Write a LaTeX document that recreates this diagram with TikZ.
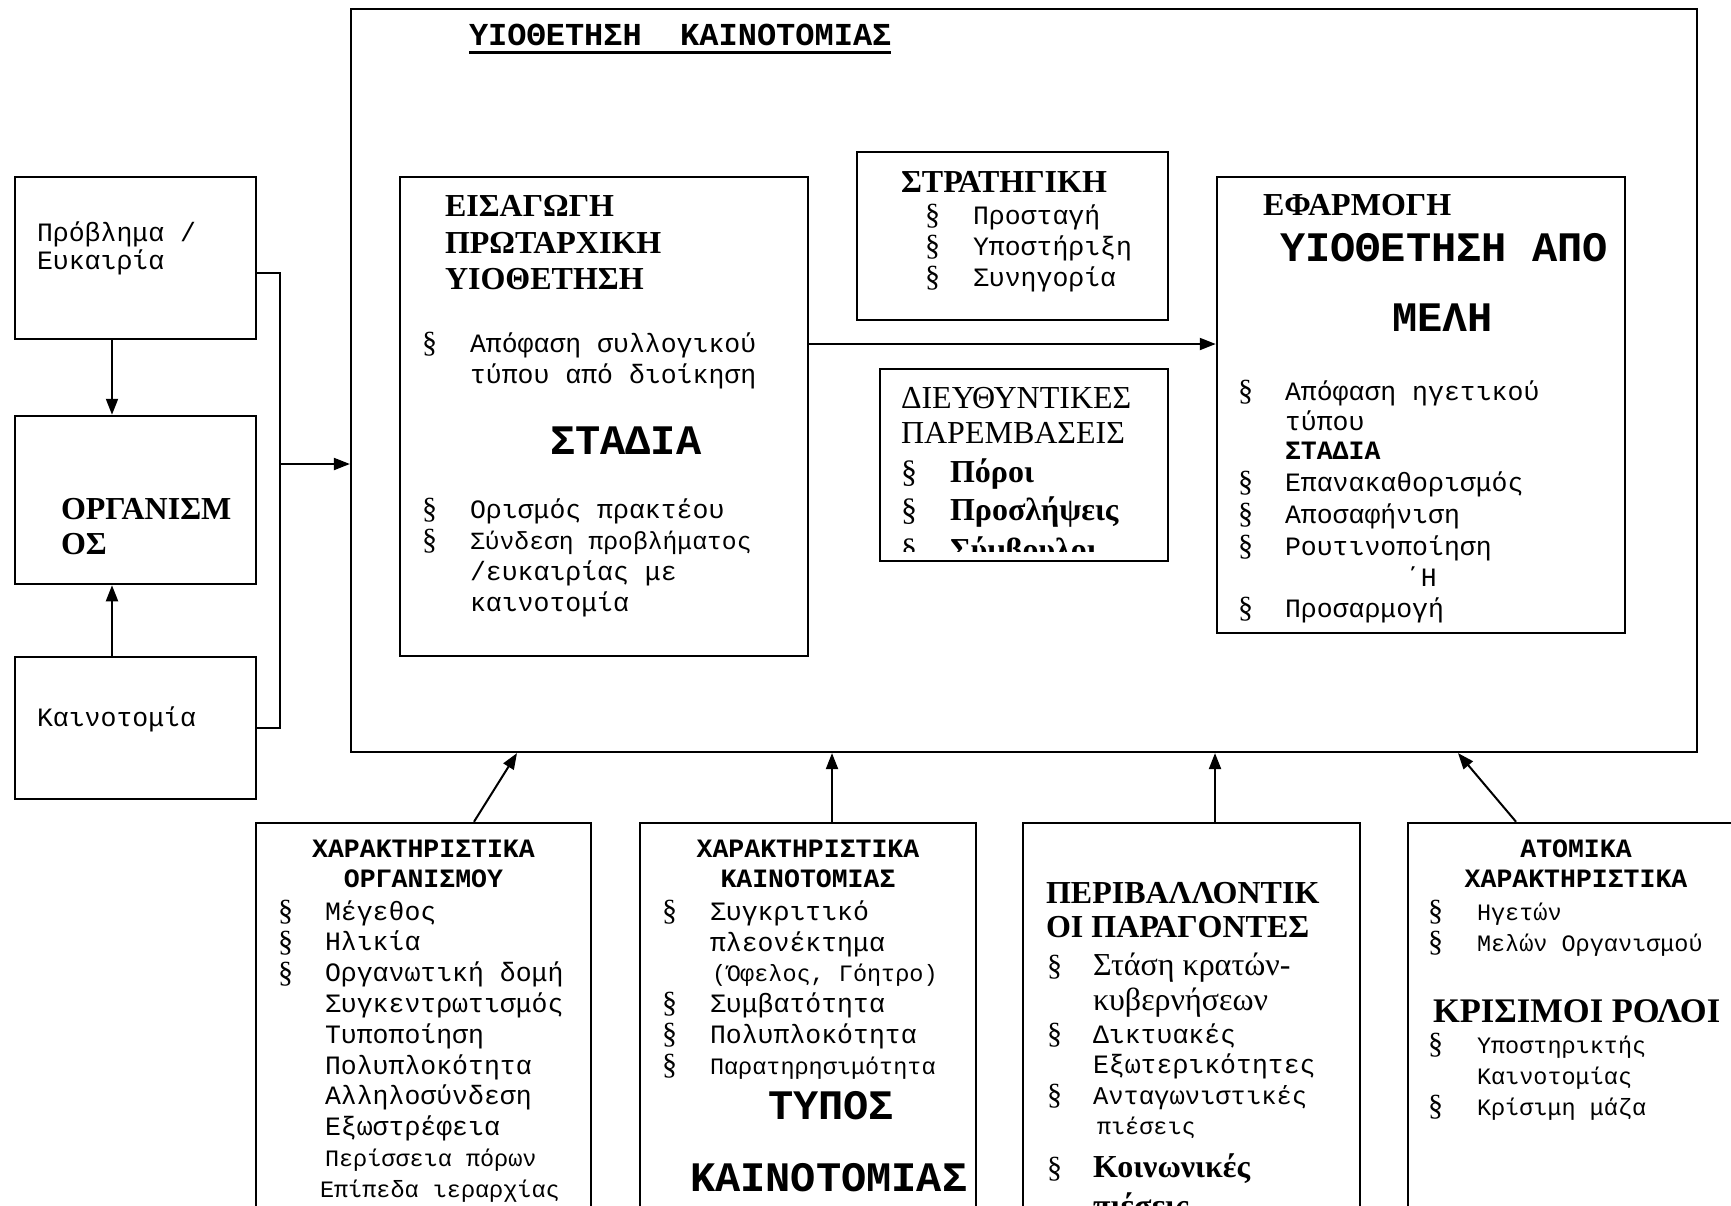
\documentclass[tikz,border=0pt]{standalone}
\usepackage{fontspec}
\setmainfont{Liberation Serif}
\setmonofont{Liberation Mono}
\usetikzlibrary{arrows.meta}
\begin{document}
\begin{tikzpicture}[x=1pt,y=-1pt,
  box/.style={draw, line width=2.5pt, rectangle, inner sep=0pt},
  arr/.style={line width=2pt, -{Triangle[length=16pt,width=12pt]}},
  ln/.style={line width=2pt},
  tx/.style={anchor=base west, inner sep=0pt, outer sep=0pt},
  txc/.style={anchor=base, inner sep=0pt, outer sep=0pt},
  mono/.style={font=\ttfamily\fontsize{26.5pt}{31pt}\selectfont},
  monom/.style={font=\ttfamily\fontsize{24.7pt}{30pt}\selectfont},
  monos/.style={font=\ttfamily\fontsize{23.5pt}{28pt}\selectfont},
  monob/.style={font=\ttfamily\bfseries\fontsize{26.5pt}{31pt}\selectfont},
  monobig/.style={font=\ttfamily\bfseries\fontsize{42pt}{48pt}\selectfont},
  titlef/.style={font=\ttfamily\bfseries\fontsize{32pt}{36pt}\selectfont},
  serb/.style={font=\rmfamily\bfseries\fontsize{32pt}{36pt}\selectfont},
  ser/.style={font=\rmfamily\fontsize{32pt}{36pt}\selectfont},
  sect/.style={font=\rmfamily\fontsize{30pt}{34pt}\selectfont},
]
\useasboundingbox (0,0) rectangle (1731,1205);
\clip (0,0) rectangle (1731,1205);
\fill[white] (0,0) rectangle (1731,1205);

% ---------- boxes ----------
\node[box, minimum width=241pt, minimum height=162pt] (A) at (135.5,258) {};
\node[box, minimum width=241pt, minimum height=168pt] (B) at (135.5,500) {};
\node[box, minimum width=241pt, minimum height=142pt] (C) at (135.5,728) {};
\node[box, line width=2.2pt, minimum width=1346pt, minimum height=743pt] (big) at (1024,380.5) {};
\node[box, minimum width=408pt, minimum height=479pt] (D) at (604,416.5) {};
\node[box, minimum width=311pt, minimum height=168pt] (E) at (1012.5,236) {};
\node[box, minimum width=288pt, minimum height=192pt] (F) at (1024,465) {};
\node[box, minimum width=408pt, minimum height=456pt] (G) at (1421,405) {};
\node[box, minimum width=335pt, minimum height=437pt] (b1) at (423.5,1041.5) {};
\node[box, minimum width=336pt, minimum height=437pt] (b2) at (808,1041.5) {};
\node[box, minimum width=337pt, minimum height=437pt] (b3) at (1191.5,1041.5) {};
\node[box, minimum width=336pt, minimum height=437pt] (b4) at (1576,1041.5) {};

% ---------- connectors ----------
\draw[arr] ([xshift=-23.5pt]A.south) -- ([xshift=-23.5pt]B.north);
\draw[arr] ([xshift=-23.5pt]C.north) -- ([xshift=-23.5pt]B.south);
\coordinate (jx) at (280,464);
\draw[ln] ([yshift=-15pt]A.east) -| (jx) |- (C.east);
\draw[arr] (jx) -- (jx -| big.west);
\draw[arr] ([yshift=72.5pt]D.east) -- ([yshift=72.5pt]D.east -| G.west);
\draw[arr] ([xshift=50.5pt]b1.north) -- ([xshift=-507pt]big.south);
\draw[arr] ([xshift=24pt]b2.north) -- ([xshift=24pt]b2.north |- big.south);
\draw[arr] ([xshift=23.5pt]b3.north) -- ([xshift=23.5pt]b3.north |- big.south);
\draw[arr] ([xshift=-60pt]b4.north) -- ([xshift=434pt]big.south);

% ---------- left column ----------
\node[tx,mono] (a1) at (37,241) {Πρόβλημα /};
\node[tx,mono] (a2) at (37,269) {Ευκαιρία};
\node[tx,serb] (o1) at (61,519) {ΟΡΓΑΝΙΣΜ};
\node[tx,serb] (o2) at (61,554) {ΟΣ};
\node[tx,mono] (c1) at (37,726) {Καινοτομία};

% ---------- title ----------
\node[tx,titlef] (tt) at (469,45) {ΥΙΟΘΕΤΗΣΗ\ \ ΚΑΙΝΟΤΟΜΙΑΣ};
\draw[line width=3pt] ([yshift=-7pt]tt.base west) -- ([yshift=-7pt]tt.base east);

% ---------- box D ----------
\node[tx,serb] (d1) at (445,216) {ΕΙΣΑΓΩΓΗ};
\node[tx,serb] (d2) at (445,253) {ΠΡΩΤΑΡΧΙΚΗ};
\node[tx,serb] (d3) at (445,289) {ΥΙΟΘΕΤΗΣΗ};
\node[tx,sect] (ds1) at (422,352) {§};
\node[tx,mono] (d4) at (470,352) {Απόφαση συλλογικού};
\node[tx,mono] (d5) at (470,383) {τύπου από διοίκηση};
\node[tx,monobig] (d6) at (550,454) {ΣΤΑΔΙΑ};
\node[tx,sect] (ds2) at (422,518) {§};
\node[tx,mono] (d7) at (470,518) {Ορισμός πρακτέου};
\node[tx,sect] (ds3) at (422,549) {§};
\node[tx,monom] (d8) at (470,549) {Σύνδεση προβλήματος};
\node[tx,mono] (d9) at (470,580) {/ευκαιρίας με};
\node[tx,mono] (d10) at (470,611) {καινοτομία};

% ---------- box E ----------
\node[tx,serb] (e1) at (901,192) {ΣΤΡΑΤΗΓΙΚΗ};
\foreach \t [count=\i] in {Προσταγή, Υποστήριξη, Συνηγορία} {
  \node[tx,sect] (es\i) at (925,193+31*\i) {§};
  \node[tx,mono] (et\i) at (973,193+31*\i) {\t};
}

% ---------- box F ----------
\node[tx,ser] (f1) at (901,408) {ΔΙΕΥΘΥΝΤΙΚΕΣ};
\node[tx,ser] (f2) at (901,443) {ΠΑΡΕΜΒΑΣΕΙΣ};
\node[tx,ser] (fs1) at (901,482) {§};
\node[tx,serb] (f3) at (950,482) {Πόροι};
\node[tx,ser] (fs2) at (901,520) {§};
\node[tx,serb] (f4) at (950,520) {Προσλήψεις};
\begin{scope}
  \clip (880,369) rectangle (1168,551);
  \node[tx,ser] (fs3) at (901,560) {§};
  \node[tx,serb] (f5) at (950,560) {Σύμβουλοι};
\end{scope}

% ---------- box G ----------
\node[tx,serb] (g1) at (1263,215) {ΕΦΑΡΜΟΓΗ};
\node[tx,monobig] (g2) at (1280,261) {ΥΙΟΘΕΤΗΣΗ ΑΠΟ};
\node[tx,monobig] (g3) at (1392,331) {ΜΕΛΗ};
\node[tx,sect] (gs1) at (1238,400) {§};
\node[tx,mono] (g4) at (1285,400) {Απόφαση ηγετικού};
\node[tx,mono] (g5) at (1285,430) {τύπου};
\node[tx,monob] (g6) at (1285,459) {ΣΤΑΔΙΑ};
\foreach \t/\y [count=\i] in {Επανακαθορισμός/491, Αποσαφήνιση/523, Ρουτινοποίηση/555, Προσαρμογή/617} {
  \node[tx,sect] (gs\i b) at (1238,\y) {§};
  \node[tx,mono] (gt\i) at (1285,\y) {\t};
}
\node[tx,mono] (g7) at (1405,586) {΄Η};

% ---------- bottom box 1 ----------
\node[txc,monob] (h1a) at (423.5,857) {ΧΑΡΑΚΤΗΡΙΣΤΙΚΑ};
\node[txc,monob] (h1b) at (423.5,887) {ΟΡΓΑΝΙΣΜΟΥ};
\foreach \y [count=\i] in {920,951,982} {
  \node[tx,sect] (s1\i) at (278,\y) {§};
}
\foreach \t [count=\i from 0] in {Μέγεθος, Ηλικία, Οργανωτική δομή, Συγκεντρωτισμός, Τυποποίηση, Πολυπλοκότητα, Αλληλοσύνδεση, Εξωστρέφεια} {
  \node[tx,mono] (l1\i) at (325,920+30.8*\i) {\t};
}
\node[tx,monos] (l1y) at (325,1166) {Περίσσεια πόρων};
\node[tx,monos] (l1x) at (320,1197) {Επίπεδα ιεραρχίας};

% ---------- bottom box 2 ----------
\node[txc,monob] (h2a) at (808,857) {ΧΑΡΑΚΤΗΡΙΣΤΙΚΑ};
\node[txc,monob] (h2b) at (808,887) {ΚΑΙΝΟΤΟΜΙΑΣ};
\foreach \y [count=\i] in {920,1012,1043,1074} {
  \node[tx,sect] (s2\i) at (662,\y) {§};
}
\node[tx,mono] (l21) at (710,920) {Συγκριτικό};
\node[tx,mono] (l22) at (710,951) {πλεονέκτημα};
\node[tx,monos] (l23) at (712,981) {(Όφελος, Γόητρο)};
\node[tx,mono] (l24) at (710,1012) {Συμβατότητα};
\node[tx,mono] (l25) at (710,1043) {Πολυπλοκότητα};
\node[tx,monos] (l26) at (710,1074) {Παρατηρησιμότητα};
\node[tx,monobig] (l27) at (768,1119) {ΤΥΠΟΣ};
\node[tx,monobig] (l28) at (690,1191) {ΚΑΙΝΟΤΟΜΙΑΣ};

% ---------- bottom box 3 ----------
\node[tx,serb] (h3a) at (1046,903) {ΠΕΡΙΒΑΛΛΟΝΤΙΚ};
\node[tx,serb] (h3b) at (1046,937) {ΟΙ ΠΑΡΑΓΟΝΤΕΣ};
\foreach \y [count=\i] in {975,1043,1104,1177} {
  \node[tx,sect] (s3\i) at (1047,\y) {§};
}
\node[tx,ser] (l31) at (1093,975) {Στάση κρατών-};
\node[tx,ser] (l32) at (1093,1010) {κυβερνήσεων};
\node[tx,mono] (l33) at (1093,1043) {Δικτυακές};
\node[tx,mono] (l34) at (1093,1073) {Εξωτερικότητες};
\node[tx,font=\ttfamily\fontsize{25.5pt}{30pt}\selectfont] (l35) at (1093,1104) {Ανταγωνιστικές};
\node[tx,monos] (l36) at (1097,1134) {πιέσεις};
\node[tx,serb] (l37) at (1093,1177) {Κοινωνικές};
\node[tx,serb] (l38) at (1093,1216) {πιέσεις};

% ---------- bottom box 4 ----------
\node[txc,monob] (h4a) at (1576,857) {ΑΤΟΜΙΚΑ};
\node[txc,monob] (h4b) at (1576,887) {ΧΑΡΑΚΤΗΡΙΣΤΙΚΑ};
\foreach \y [count=\i] in {920,951,1053,1115} {
  \node[tx,sect] (s4\i) at (1428,\y) {§};
}
\node[tx,monos] (l41) at (1477,920) {Ηγετών};
\node[tx,monos] (l42) at (1477,951) {Μελών Οργανισμού};
\node[tx,font=\rmfamily\bfseries\fontsize{34.5pt}{38pt}\selectfont] (l43) at (1433,1022) {ΚΡΙΣΙΜΟΙ ΡΟΛΟΙ};
\node[tx,monos] (l44) at (1477,1053) {Υποστηρικτής};
\node[tx,monos] (l45) at (1477,1084) {Καινοτομίας};
\node[tx,monos] (l46) at (1477,1115) {Κρίσιμη μάζα};
\end{tikzpicture}
\end{document}
